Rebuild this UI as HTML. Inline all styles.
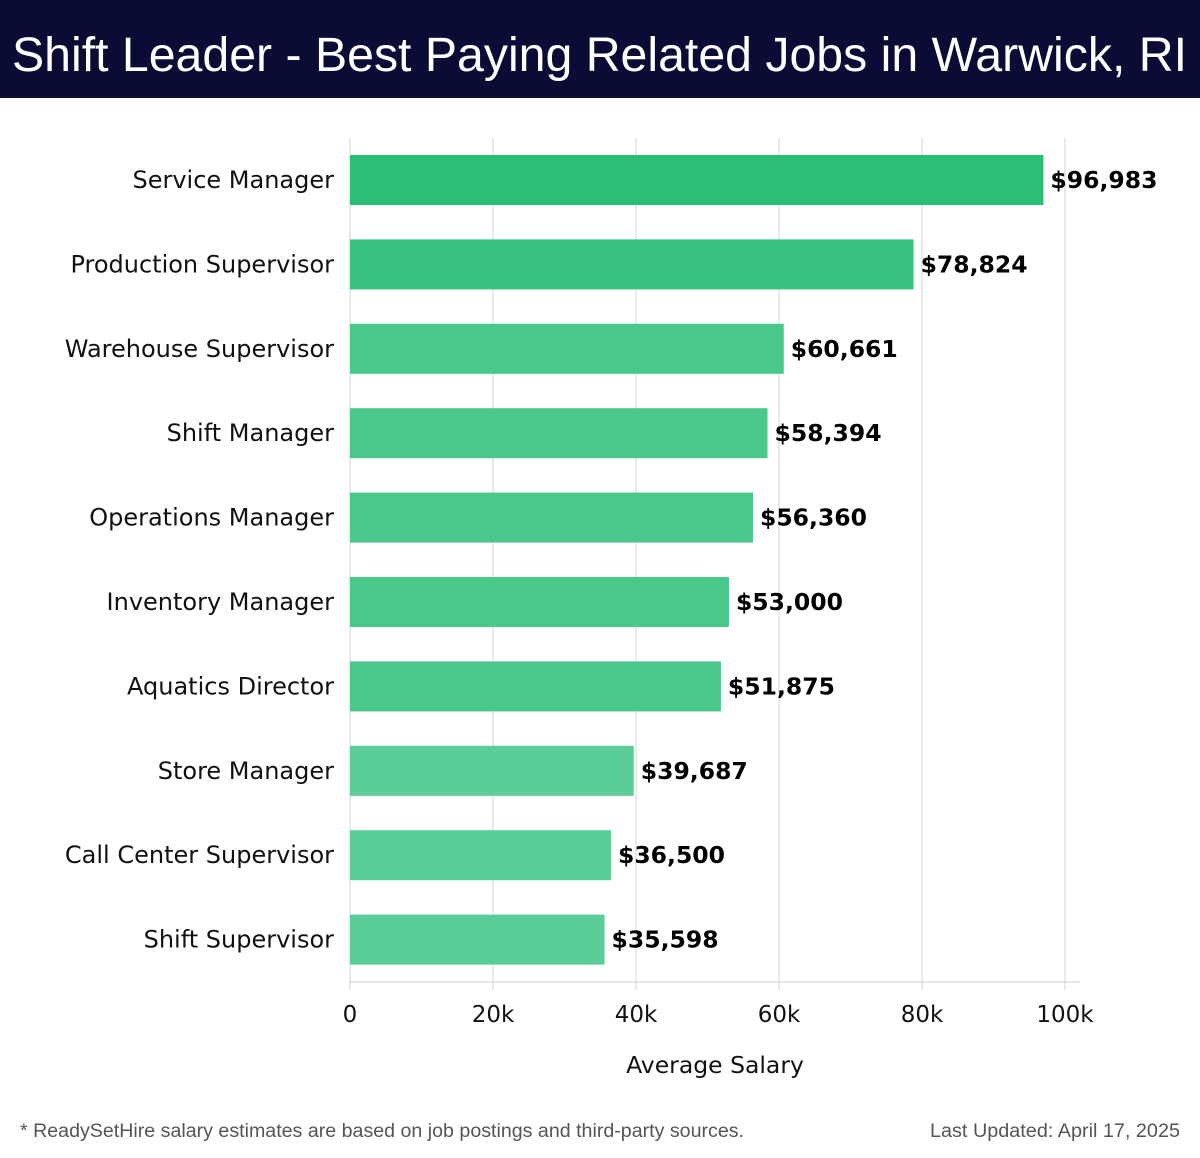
<!DOCTYPE html>
<html><head><meta charset="utf-8"><style>
body{margin:0;width:1200px;height:1158px;background:#fff;font-family:"DejaVu Sans","Liberation Sans",sans-serif;overflow:hidden}
#hdr{position:absolute;left:0;top:0;width:1200px;height:98px;background:#0b0c35}
</style></head><body>
<div id="hdr"></div>
<svg id="chart" width="1200" height="1158" style="position:absolute;left:0;top:0">
<text x="12" y="71" font-size="48" fill="#fff" font-family="Liberation Sans, sans-serif" textLength="1175" lengthAdjust="spacingAndGlyphs">Shift Leader - Best Paying Related Jobs in Warwick, RI</text>
</svg>
<script>
const categories=["Service Manager","Production Supervisor","Warehouse Supervisor","Shift Manager","Operations Manager","Inventory Manager","Aquatics Director","Store Manager","Call Center Supervisor","Shift Supervisor"];
const values=[96983,78824,60661,58394,56360,53000,51875,39687,36500,35598];
const valueLabels=["$96,983","$78,824","$60,661","$58,394","$56,360","$53,000","$51,875","$39,687","$36,500","$35,598"];
const ticks=[0,20000,40000,60000,80000,100000];
const tickLabels=["0","20k","40k","60k","80k","100k"];
const svg=document.getElementById('chart');const NS='http://www.w3.org/2000/svg';
const x=v=>350+v*(715/100000);
const yc=i=>180+i*84.4;
function mk(t,a,txt){const e=document.createElementNS(NS,t);for(const k in a)e.setAttribute(k,a[k]);if(txt!==undefined)e.textContent=txt;svg.appendChild(e);return e;}
function col(v){return v>90000?'#2dbe76':v>70000?'#3ac282':v>50000?'#4ac78b':'#5acd98';}
ticks.forEach((t,i)=>{
 const g=mk('line',{x1:x(t),x2:x(t),y1:138,y2:990,stroke:'#e3e3e3','stroke-width':1.5});
 
 
 const l=mk('text',{x:x(t),y:1022,'text-anchor':'middle','font-size':23,fill:'#111'},tickLabels[i]);
 
 
});
const ax=mk('line',{x1:350,x2:1080,y1:982,y2:982,stroke:'#ccc','stroke-width':1});


categories.forEach((c,i)=>{
 const b=mk('rect',{x:350,y:yc(i)-25,width:x(values[i])-350,height:50,fill:col(values[i])});
 
 
 const l=mk('text',{x:334,y:yc(i)+8,'text-anchor':'end','font-size':24,fill:'#111'},c);
 
 
 const v=mk('text',{x:x(values[i])+7,y:yc(i)+8,'font-size':23.5,'font-weight':'bold',fill:'#000'},valueLabels[i]);
 
 
});
const t=mk('text',{x:715,y:1073,'text-anchor':'middle','font-size':23.5,fill:'#111'},'Average Salary');


const f=mk('text',{x:20,y:1137,'font-size':19,fill:'#555','font-family':'Liberation Sans, sans-serif',textLength:724,lengthAdjust:'spacingAndGlyphs'},'* ReadySetHire salary estimates are based on job postings and third-party sources.');


const u=mk('text',{x:930,y:1137,'font-size':19,fill:'#555','font-family':'Liberation Sans, sans-serif',textLength:250,lengthAdjust:'spacingAndGlyphs'},'Last Updated: April 17, 2025');


</script>
</body></html>
